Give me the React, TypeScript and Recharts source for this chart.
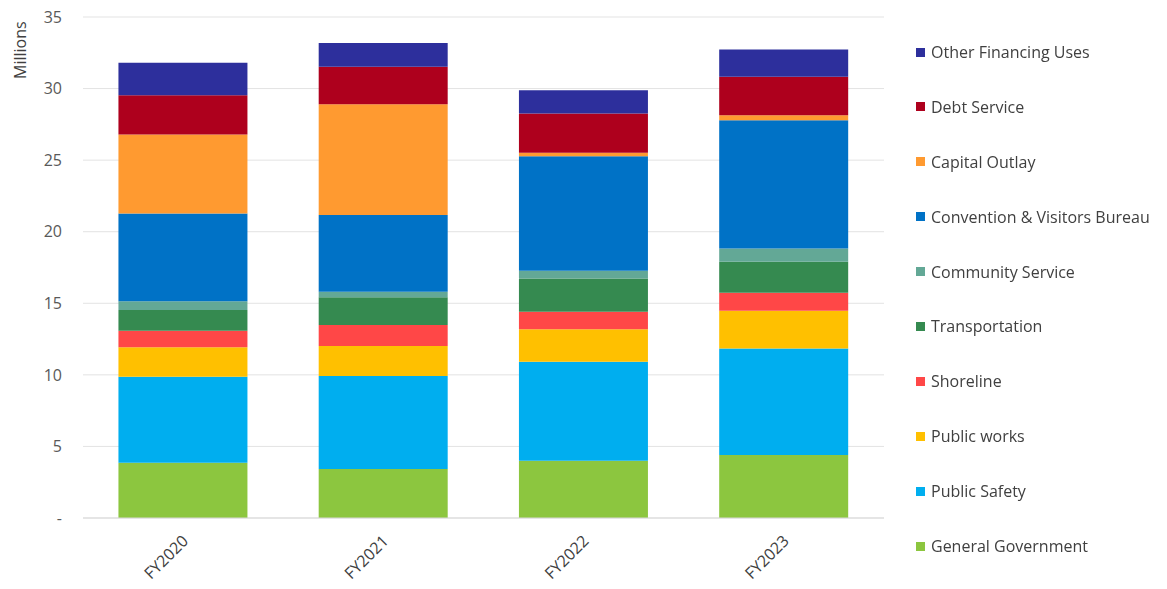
import React from 'react';
import { BarChart, Bar, XAxis, YAxis, CartesianGrid } from 'recharts';

// fiscal years on the x axis
const years = ['FY2020', 'FY2021', 'FY2022', 'FY2023'];

// spending by function, in millions (stack order: bottom to top)
const generalGovernment = [3.86, 3.42, 4.0, 4.4];
const publicSafety = [6.01, 6.5, 6.92, 7.45];
const publicWorks = [2.05, 2.09, 2.26, 2.63];
const shoreline = [1.16, 1.47, 1.23, 1.25];
const transportation = [1.45, 1.95, 2.33, 2.17];
const communityService = [0.62, 0.37, 0.53, 0.93];
const conventionBureau = [6.13, 5.36, 8.01, 8.96];
const capitalOutlay = [5.51, 7.75, 0.23, 0.35];
const debtService = [2.75, 2.61, 2.75, 2.68];
const otherFinancing = [2.26, 1.67, 1.63, 1.91];

const yTicks = [0, 5, 10, 15, 20, 25, 30, 35];

const series = [
  { key: 'gg', name: 'General Government', values: generalGovernment, color: '#8cc63f' },
  { key: 'ps', name: 'Public Safety', values: publicSafety, color: '#00aeef' },
  { key: 'pw', name: 'Public works', values: publicWorks, color: '#ffc000' },
  { key: 'sh', name: 'Shoreline', values: shoreline, color: '#ff4747' },
  { key: 'tr', name: 'Transportation', values: transportation, color: '#358a50' },
  { key: 'cs', name: 'Community Service', values: communityService, color: '#63a896' },
  { key: 'cvb', name: 'Convention & Visitors Bureau', values: conventionBureau, color: '#0072c6' },
  { key: 'co', name: 'Capital Outlay', values: capitalOutlay, color: '#ff9a30' },
  { key: 'ds', name: 'Debt Service', values: debtService, color: '#ae001d' },
  { key: 'of', name: 'Other Financing Uses', values: otherFinancing, color: '#2d2f9c' },
];

const data = years.map((year, i) => {
  const row: Record<string, string | number> = { year };
  series.forEach((s) => {
    row[s.key] = s.values[i];
  });
  return row;
});

const FONT = '"Open Sans", sans-serif';

const XTick = (props: any) => {
  const { x, y, payload } = props;
  return (
    <text
      x={x + 6}
      y={y + 16}
      transform={`rotate(-45, ${x + 6}, ${y + 16})`}
      textAnchor="end"
      fill="#404040"
      fontSize={16}
      fontFamily={FONT}
    >
      {payload.value}
    </text>
  );
};

export default function App() {
  return (
    <div style={{ position: 'fixed', left: 0, top: 0, width: 1167, height: 589, background: '#fff' }}>
      <BarChart
        width={1167}
        height={589}
        data={data}
        margin={{ top: 17, right: 283, bottom: 41, left: 0 }}
        barCategoryGap="17.7%"
      >
        <CartesianGrid vertical={false} stroke="#e3e3e3" />
        <XAxis
          dataKey="year"
          height={30}
          axisLine={{ stroke: '#d9d9d9' }}
          tickLine={false}
          tick={<XTick />}
          interval={0}
        />
        <YAxis
          width={83}
          domain={[0, 35]}
          ticks={yTicks}
          axisLine={false}
          tickLine={false}
          tickSize={0}
          tickMargin={21}
          tickFormatter={(v: number) => (v === 0 ? '-' : String(v))}
          tick={{ fill: '#595959', fontSize: 16, fontFamily: FONT }}
          label={{
            value: 'Millions',
            angle: -90,
            position: 'insideTopLeft',
            dx: 10,
            dy: 57,
            fill: '#404040',
            fontSize: 16,
            fontFamily: FONT,
          }}
        />
        {series.map((s) => (
          <Bar key={s.key} dataKey={s.key} name={s.name} stackId="a" fill={s.color} isAnimationActive={false} />
        ))}
      </BarChart>
      <div style={{ position: 'absolute', left: 916, top: 41, fontFamily: FONT, fontSize: 16, color: '#404040' }}>
        {[...series].reverse().map((s) => (
          <div key={s.key} style={{ display: 'flex', alignItems: 'center', height: 22, marginBottom: 32.9 }}>
            <span style={{ width: 9, height: 9, background: s.color, marginRight: 6, display: 'inline-block' }} />
            <span style={{ whiteSpace: 'nowrap' }}>{s.name}</span>
          </div>
        ))}
      </div>
    </div>
  );
}
